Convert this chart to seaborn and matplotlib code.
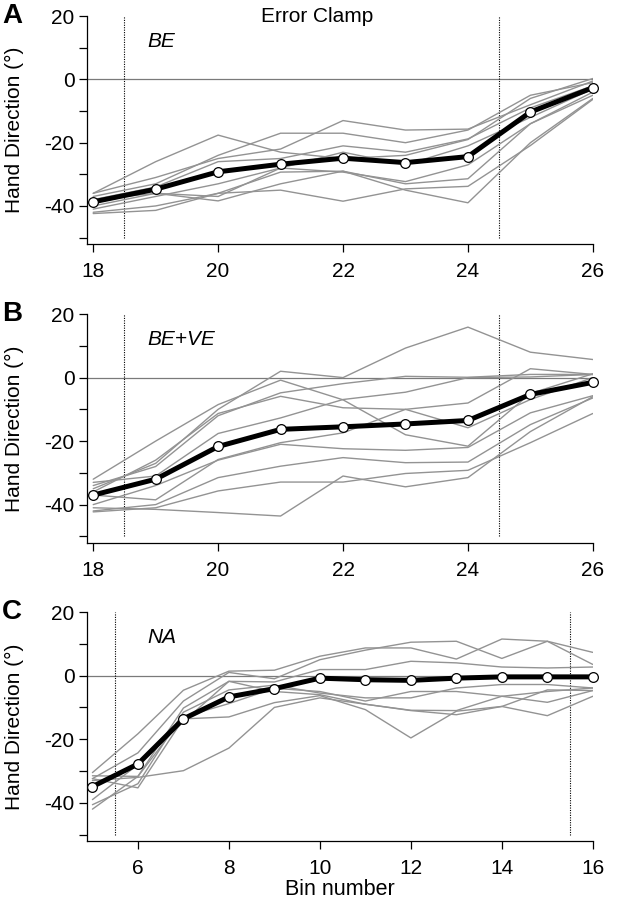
import numpy as np
import pandas as pd
import matplotlib
matplotlib.use("Agg")
import matplotlib.pyplot as plt
import seaborn as sns

sns.set_theme(style="ticks")
plt.rcParams['font.family'] = ['Liberation Sans', 'DejaVu Sans']
plt.rcParams.update({"text.color": "black", "axes.labelcolor": "black",
                     "xtick.color": "black", "ytick.color": "black",
                     "axes.edgecolor": "black"})

# ---------------- data ----------------
bins_A = [18, 19, 20, 21, 22, 23, 24, 25, 26]
mean_A = [-38.7, -34.7, -29.2, -26.8, -24.9, -26.3, -24.4, -10.3, -2.6]
subj_A = [
    [-36, -26, -17.6, -23, -25, -24, -19, -6, 0.3],
    [-37, -33, -24, -17, -17, -20, -16, -5, -1],
    [-36, -31, -25, -22, -13, -16, -15.7, -8, -0.5],
    [-38, -34, -26, -25, -21, -23, -18.8, -9, -2],
    [-41, -37, -33, -28, -23, -27, -21, -12, -3],
    [-38, -36, -37, -28, -29.3, -32.3, -27, -14, -4],
    [-42, -40, -36, -29.3, -29, -33, -31.4, -14, -5],
    [-42.4, -41.4, -36, -35, -38.5, -34.6, -33.8, -20.9, -6.3],
    [-40, -36, -38.4, -33, -29, -35, -39, -20, -6],
]

bins_B = [18, 19, 20, 21, 22, 23, 24, 25, 26]
mean_B = [-37.0, -32.0, -21.7, -16.3, -15.5, -14.6, -13.5, -5.3, -1.5]
subj_B = [
    [-35, -27, -10, 2, 0, 9.3, 15.9, 8, 5.7],
    [-32, -20, -8.5, -0.8, -7, -18, -21.6, -5, 1.2],
    [-34, -28, -12, -4.8, -1.9, 0.4, 0.1, 1, 1],
    [-36, -26, -11.3, -5.9, -9.5, -10, -8, 2.8, 1],
    [-33, -31, -17.6, -12.7, -6.9, -4.6, 0, 0.2, 1],
    [-37, -38.5, -25.8, -20.5, -17.4, -10, -15.8, -6.9, 0],
    [-40, -34, -26, -21, -22.4, -22.9, -22, -11.1, -5.7],
    [-42, -40, -31.5, -27.9, -25.2, -26.8, -26.6, -14.8, -6.4],
    [-42.3, -41, -35.7, -32.9, -32.9, -30.2, -29.2, -20.5, -11.3],
    [-41, -41.5, -42.5, -43.6, -31, -34.4, -31.5, -17, -6],
]

bins_C = [5, 6, 7, 8, 9, 10, 11, 12, 13, 14, 15, 16]
mean_C = [-34.9, -27.8, -13.6, -6.7, -4.1, -0.8, -1.3, -1.5, -0.8, -0.4, -0.4, -0.4]
subj_C = [
    [-30.5, -18.3, -4.6, 1.4, 1.7, 6.1, 8.7, 8.7, 5.2, 11.5, 10.8, 7.3],
    [-32.4, -24.3, -8, 1.0, -1, 5.0, 8.0, 10.5, 10.8, 5.4, 10.8, 3.5],
    [-31.5, -31.7, -10.2, -1.8, -2, 1.9, 1.9, 4.5, 4.0, 2.7, 2.4, 2.7],
    [-40.6, -34.0, -11.5, -4.5, -3, -5.5, -7, -7, -3.9, -2.8, -2.8, -3.9],
    [-42, -31.7, -13, -8.8, -4, -5, -8, -5.0, -5, -6.5, -8.4, -4.7],
    [-32.4, -35.3, -13.6, -13, -8.5, -6.3, -10.7, -19.6, -11.2, -9.7, -4.5, -4.7],
    [-33, -32, -29.9, -22.8, -10, -7, -9, -11, -12.3, -9.7, -12.6, -6.5],
    [-39, -28, -14.5, -1.8, -5, -6, -9, -10.9, -11, -6.5, -5, -3.9],
]

panels = [
    dict(letter="A", label="BE", bins=bins_A, mean=mean_A, subj=subj_A,
         xticks=[18, 20, 22, 24, 26], xlim=(17.9, 26), vlines=[18.5, 24.5]),
    dict(letter="B", label="BE+VE", bins=bins_B, mean=mean_B, subj=subj_B,
         xticks=[18, 20, 22, 24, 26], xlim=(17.9, 26), vlines=[18.5, 24.5]),
    dict(letter="C", label="NA", bins=bins_C, mean=mean_C, subj=subj_C,
         xticks=[6, 8, 10, 12, 14, 16], xlim=(4.88, 16), vlines=[5.5, 15.5]),
]

# ---------------- figure ----------------
fig = plt.figure(figsize=(6.23, 9.0), dpi=100)
rects = [
    [0.1396, 0.729, 0.812, 0.253],
    [0.1396, 0.397, 0.812, 0.254],
    [0.1396, 0.0656, 0.812, 0.2544],
]

gray = "#939393"
for p, r in zip(panels, rects):
    ax = fig.add_axes(r)
    rows = []
    for i, s in enumerate(p["subj"]):
        for b, v in zip(p["bins"], s):
            rows.append({"bin": b, "dir": v, "subject": i})
    df = pd.DataFrame(rows)
    ax.axhline(0, color="#7a7a7a", lw=0.9, zorder=1)
    for xv in p["vlines"]:
        ax.plot([xv, xv], [-50, 20], color="black", lw=0.8, ls=(0, (1, 1.2)), zorder=1)
    sns.lineplot(data=df, x="bin", y="dir", units="subject", estimator=None,
                 color=gray, lw=1.0, ax=ax, zorder=2, legend=False)
    mdf = pd.DataFrame({"bin": p["bins"], "dir": p["mean"]})
    sns.lineplot(data=mdf, x="bin", y="dir", color="black", lw=3.6, ax=ax,
                 marker="o", markersize=7, markerfacecolor="white",
                 markeredgecolor="black", markeredgewidth=0.9, zorder=5,
                 clip_on=False)
    ax.set_xlim(*p["xlim"])
    ax.set_ylim(-52, 20)
    ax.set_xticks(p["xticks"])
    ax.set_yticks([20, 0, -20, -40])
    ax.set_yticklabels(["20", "0", "-20", "-40"])
    ax.set_yticks([10, -10, -30, -50], minor=True)
    ax.tick_params(axis="both", which="both", direction="out", length=6,
                   width=0.9, labelsize=15, pad=3, color="black")
    ax.tick_params(axis="x", which="both", pad=7)
    for s in ["top", "right"]:
        ax.spines[s].set_visible(False)
    for s in ["left", "bottom"]:
        ax.spines[s].set_linewidth(0.9)
        ax.spines[s].set_color("black")
    ax.set_ylabel("Hand Direction (°)", fontsize=15)
    ax.yaxis.set_label_coords(-0.125, 0.5)
    ax.set_xlabel("")
    ax.text(0.12, 0.89, p["label"], transform=ax.transAxes, fontsize=15,
            fontstyle="italic", va="center", ha="left")
    ax.text(-0.168, 1.0, p["letter"], transform=ax.transAxes, fontsize=20,
            fontweight="bold", va="center", ha="left")
    if p["letter"] == "A":
        ax.text(0.455, 1.0, "Error Clamp", transform=ax.transAxes, fontsize=15,
                va="center", ha="center")
    if p["letter"] == "C":
        ax.set_xlabel("Bin number", fontsize=15.5, labelpad=1)

fig.savefig("out.png", dpi=100, facecolor="white")
